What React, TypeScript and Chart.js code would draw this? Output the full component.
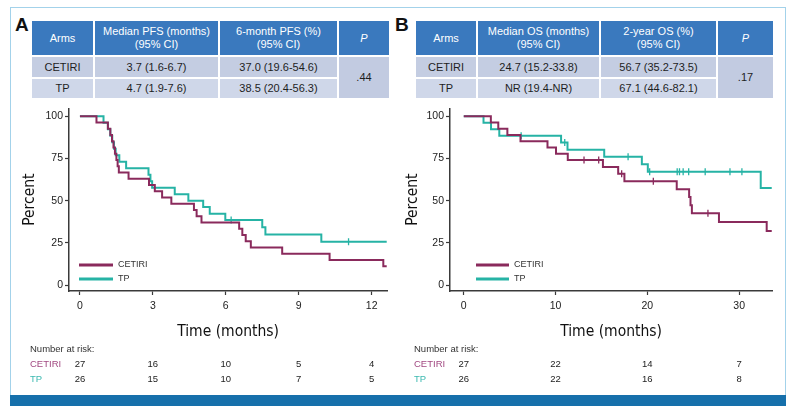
import React, { useEffect, useRef } from "react";
import { Chart, registerables } from "chart.js";

Chart.register(...registerables);

const PURPLE = "#8a2a5c";
const TEAL = "#26b3a5";
const AXIS = "#3a3a3a";
const NARROW = '"Liberation Sans Narrow", "Arial Narrow", "DejaVu Sans Condensed", "Liberation Sans", sans-serif';
const SANS = '"Liberation Sans", Arial, Helvetica, sans-serif';

const armNames = ["CETIRI", "TP"];
const yTicks = [0, 25, 50, 75, 100];

// ---------- Panel A: progression-free survival ----------
const pfsXTicks = [0, 3, 6, 9, 12];
const pfsCetiriTime = [0, 0.68, 1.15, 1.25, 1.32, 1.38, 1.44, 1.5, 1.55, 1.6, 2.0, 2.84, 3.08, 3.38, 3.76, 4.69, 4.8, 5.0, 6.55, 6.68, 6.82, 7.03, 8.32, 10.27, 12.48, 12.62];
const pfsCetiriSurv = [100, 96.3, 92.6, 88.9, 85.2, 81.5, 77.8, 74.1, 70.4, 66.7, 63.0, 59.3, 55.6, 51.9, 48.1, 44.4, 40.7, 37.0, 33.3, 29.6, 25.9, 22.2, 18.5, 14.8, 11.1, 11.1];
const pfsCetiriCensor: number[] = [];
const pfsTpTime = [0, 0.97, 1.15, 1.25, 1.33, 1.4, 1.47, 1.62, 1.9, 2.82, 2.9, 2.97, 3.9, 4.46, 5.07, 5.34, 5.98, 7.5, 7.63, 9.93, 12.62];
const pfsTpSurv = [100, 96.2, 92.3, 88.5, 84.6, 80.8, 76.9, 73.1, 69.2, 65.4, 61.5, 57.7, 53.8, 50.0, 46.2, 42.3, 38.5, 34.2, 29.9, 25.6, 25.6];
const pfsTpCensor = [6.22, 11.05];
const pfsRiskCetiri = [27, 16, 10, 5, 4];
const pfsRiskTp = [26, 15, 10, 7, 5];

// ---------- Panel B: overall survival ----------
const osXTicks = [0, 10, 20, 30];
const osCetiriTime = [0, 2.95, 3.76, 4.75, 6.18, 9.12, 10.05, 11.33, 15.16, 16.82, 17.5, 23.2, 24.55, 24.7, 24.85, 27.8, 33.0, 33.55];
const osCetiriSurv = [100, 96.3, 92.6, 88.9, 85.2, 81.5, 77.8, 74.1, 70.0, 65.9, 61.5, 56.8, 52.1, 47.3, 42.6, 37.3, 32.0, 32.0];
const osCetiriCensor = [13.1, 14.7, 17.2, 20.65, 26.6];
const osTpTime = [0, 2.15, 2.97, 3.87, 10.6, 11.3, 15.3, 19.4, 20.05, 32.35, 33.55];
const osTpSurv = [100, 96.2, 92.3, 88.5, 84.5, 80.2, 76.0, 71.5, 67.1, 57.5, 57.5];
const osTpCensor = [6.25, 11.0, 17.9, 20.25, 23.25, 23.5, 23.9, 24.5, 26.3, 29.0, 30.3];
const osRiskCetiri = [27, 22, 14, 7];
const osRiskTp = [26, 22, 16, 8];

// ---------- Tables ----------
const tableAHeader = ["Arms", "Median PFS (months)|(95% CI)", "6-month PFS (%)|(95% CI)", "P"];
const tableARows = [
  ["CETIRI", "3.7 (1.6-6.7)", "37.0 (19.6-54.6)"],
  ["TP", "4.7 (1.9-7.6)", "38.5 (20.4-56.3)"],
];
const tableAP = ".44";
const tableBHeader = ["Arms", "Median OS (months)|(95% CI)", "2-year OS (%)|(95% CI)", "P"];
const tableBRows = [
  ["CETIRI", "24.7 (15.2-33.8)", "56.7 (35.2-73.5)"],
  ["TP", "NR (19.4-NR)", "67.1 (44.6-82.1)"],
];
const tableBP = ".17";

type Panel = {
  xTicks: number[];
  xMin: number;
  xMax: number;
  cTime: number[];
  cSurv: number[];
  cCensor: number[];
  tTime: number[];
  tSurv: number[];
  tCensor: number[];
  riskC: number[];
  riskT: number[];
  yAxisWidth: number;
  legendX0: number;
  legendX1: number;
  riskLabelX: number;
};

function buildConfig(p: Panel): any {
  const pts = (t: number[], s: number[]) => t.map((x, i) => ({ x, y: s[i] }));
  const survAt = (t: number[], s: number[], x: number) => {
    let v = s[0];
    for (let i = 0; i < t.length; i++) if (t[i] <= x) v = s[i];
    return v;
  };
  const curve = (label: string, t: number[], s: number[], color: string) => ({
    label,
    data: pts(t, s),
    borderColor: color,
    backgroundColor: color,
    borderWidth: 2,
    pointRadius: 0,
    pointHoverRadius: 0,
    stepped: "before",
    fill: false,
  });
  const censor = (label: string, c: number[], t: number[], s: number[], color: string) => ({
    label,
    data: c.map((x) => ({ x, y: survAt(t, s, x) })),
    showLine: false,
    pointStyle: "line",
    rotation: 90,
    pointRadius: 3.5,
    pointHoverRadius: 3.5,
    borderColor: color,
    backgroundColor: color,
    pointBorderWidth: 1.3,
    borderWidth: 1.3,
  });

  const overlay = {
    id: "kmOverlay",
    afterDraw(chart: any) {
      const { ctx, chartArea: a, scales } = chart;
      const x = scales.x;
      ctx.save();
      const colors = [PURPLE, TEAL];
      const legendDy = [-26, -12];
      armNames.forEach((name, i) => {
        const y = a.bottom + legendDy[i];
        ctx.strokeStyle = colors[i];
        ctx.lineWidth = 3;
        ctx.beginPath();
        ctx.moveTo(a.left + p.legendX0, y);
        ctx.lineTo(a.left + p.legendX1, y);
        ctx.stroke();
        ctx.fillStyle = "#333";
        ctx.font = `9px ${SANS}`;
        ctx.textBaseline = "middle";
        ctx.textAlign = "left";
        ctx.fillText(name, a.left + p.legendX1 + 5, y);
      });
      ctx.font = `9.5px ${SANS}`;
      ctx.textBaseline = "middle";
      ctx.textAlign = "left";
      ctx.fillStyle = "#333";
      ctx.fillText("Number at risk:", p.riskLabelX, a.bottom + 58);
      const rows = [p.riskC, p.riskT];
      const labelColors = ["#a24a82", "#3cb9b0"];
      rows.forEach((row, i) => {
        const y = a.bottom + 73 + i * 15;
        ctx.textAlign = "left";
        ctx.fillStyle = labelColors[i];
        ctx.fillText(armNames[i], p.riskLabelX, y);
        ctx.textAlign = "center";
        ctx.fillStyle = "#222";
        row.forEach((n, j) => ctx.fillText(String(n), x.getPixelForValue(p.xTicks[j]), y));
      });
      ctx.restore();
    },
  };

  return {
    type: "line",
    data: {
      datasets: [
        curve("CETIRI", p.cTime, p.cSurv, PURPLE),
        curve("TP", p.tTime, p.tSurv, TEAL),
        censor("CETIRI censored", p.cCensor, p.cTime, p.cSurv, PURPLE),
        censor("TP censored", p.tCensor, p.tTime, p.tSurv, TEAL),
      ],
    },
    options: {
      responsive: false,
      maintainAspectRatio: false,
      animation: false,
      events: [],
      layout: { padding: { top: 8, right: 0, bottom: 0, left: 0 } },
      plugins: { legend: { display: false }, tooltip: { enabled: false } },
      scales: {
        x: {
          type: "linear",
          min: p.xMin,
          max: p.xMax,
          afterBuildTicks: (s: any) => {
            s.ticks = p.xTicks.map((v) => ({ value: v }));
          },
          afterFit: (s: any) => {
            s.height = 104;
          },
          ticks: { color: "#222", font: { family: SANS, size: 10.5 }, padding: 5, maxRotation: 0, autoSkip: false },
          grid: { display: true, drawOnChartArea: false, drawTicks: true, tickLength: 4, tickColor: AXIS, tickWidth: 1.2 },
          border: { display: true, color: AXIS, width: 1.5 },
          title: {
            display: true,
            text: "Time (months)",
            color: "#111",
            font: { family: NARROW, size: 15.5 },
            padding: { top: 0, bottom: 54 },
          },
        },
        y: {
          type: "linear",
          min: -3.5,
          max: 104.7,
          afterBuildTicks: (s: any) => {
            s.ticks = yTicks.map((v) => ({ value: v }));
          },
          afterFit: (s: any) => {
            s.width = p.yAxisWidth;
          },
          ticks: { color: "#222", font: { family: SANS, size: 10.5 }, padding: 2 },
          grid: { display: true, drawOnChartArea: false, drawTicks: true, tickLength: 4, tickColor: AXIS, tickWidth: 1.2 },
          border: { display: true, color: AXIS, width: 1.5 },
          title: {
            display: true,
            text: "Percent",
            color: "#111",
            font: { family: NARROW, size: 15.5 },
            padding: { top: 9, bottom: 0 },
          },
        },
      },
    },
    plugins: [overlay],
  };
}

function KMChart({ panel, left, top, width, height }: { panel: Panel; left: number; top: number; width: number; height: number }) {
  const ref = useRef<HTMLCanvasElement>(null);
  useEffect(() => {
    const chart = new Chart(ref.current as HTMLCanvasElement, buildConfig(panel));
    return () => chart.destroy();
  }, []);
  return (
    <div style={{ position: "absolute", left, top, width, height }}>
      <canvas ref={ref} width={width} height={height} style={{ width, height, display: "block" }} />
    </div>
  );
}

function SummaryTable({ header, rows, p, xs, ws }: { header: string[]; rows: string[][]; p: string; xs: number[]; ws: number[] }) {
  const HEAD_BG = "#3a79be";
  const ROW_BG = ["#c4cde2", "#cfd7e9"];
  const P_BG = "#c2cbe1";
  const base: React.CSSProperties = {
    position: "absolute",
    display: "flex",
    alignItems: "center",
    justifyContent: "center",
    textAlign: "center",
    fontFamily: SANS,
    fontSize: 11,
    lineHeight: "13px",
  };
  const cells: React.ReactNode[] = [];
  header.forEach((h, i) => {
    const lines = h.split("|");
    cells.push(
      <div key={"h" + i} style={{ ...base, left: xs[i], top: 21, width: ws[i], height: 34, background: HEAD_BG, color: "#fff", fontStyle: h === "P" ? "italic" : "normal" }}>
        <div>
          {lines.map((l, k) => (
            <div key={k}>{l}</div>
          ))}
        </div>
      </div>
    );
  });
  const rowTops = [57, 79];
  const rowHs = [20, 19];
  rows.forEach((r, ri) => {
    r.forEach((c, ci) => {
      cells.push(
        <div key={`r${ri}c${ci}`} style={{ ...base, left: xs[ci], top: rowTops[ri], width: ws[ci], height: rowHs[ri], background: ROW_BG[ri], color: "#1e1e1e" }}>
          {c}
        </div>
      );
    });
  });
  cells.push(
    <div key="p" style={{ ...base, left: xs[3], top: 57, width: ws[3], height: 41, background: P_BG, color: "#1e1e1e" }}>
      {p}
    </div>
  );
  return <>{cells}</>;
}

const panelA: Panel = {
  xTicks: pfsXTicks,
  xMin: -0.45,
  xMax: 12.64,
  cTime: pfsCetiriTime,
  cSurv: pfsCetiriSurv,
  cCensor: pfsCetiriCensor,
  tTime: pfsTpTime,
  tSurv: pfsTpSurv,
  tCensor: pfsTpCensor,
  riskC: pfsRiskCetiri,
  riskT: pfsRiskTp,
  yAxisWidth: 57,
  legendX0: 10,
  legendX1: 44,
  riskLabelX: 18,
};

const panelB: Panel = {
  xTicks: osXTicks,
  xMin: -1.5,
  xMax: 33.6,
  cTime: osCetiriTime,
  cSurv: osCetiriSurv,
  cCensor: osCetiriCensor,
  tTime: osTpTime,
  tSurv: osTpSurv,
  tCensor: osTpCensor,
  riskC: osRiskCetiri,
  riskT: osRiskTp,
  yAxisWidth: 55,
  legendX0: 26,
  legendX1: 59,
  riskLabelX: 19,
};

export default function App() {
  const frame = "#a3d2ea";
  const letter: React.CSSProperties = {
    position: "absolute",
    top: 15,
    fontFamily: SANS,
    fontWeight: "bold",
    fontSize: 19,
    lineHeight: "19px",
    color: "#111",
  };
  return (
    <div style={{ position: "absolute", left: 0, top: 0, width: 800, height: 412, background: "#fff", overflow: "hidden" }}>
      <div style={{ position: "absolute", left: 10, top: 7, width: 774, height: 388, borderTop: `1px solid ${frame}`, borderLeft: `1px solid ${frame}`, borderRight: `1px solid ${frame}` }} />
      <div style={{ position: "absolute", left: 10, top: 395, width: 776, height: 11, background: "#1670ab" }} />
      <div style={{ ...letter, left: 15 }}>A</div>
      <div style={{ ...letter, left: 395 }}>B</div>
      <SummaryTable header={tableAHeader} rows={tableARows} p={tableAP} xs={[32, 95, 220, 339]} ws={[61, 123, 117, 50]} />
      <SummaryTable header={tableBHeader} rows={tableBRows} p={tableBP} xs={[416, 478, 601, 718]} ws={[60, 121, 115, 55]} />
      <KMChart panel={panelA} left={12} top={100} width={380} height={295} />
      <KMChart panel={panelB} left={395} top={100} width={382} height={295} />
    </div>
  );
}
